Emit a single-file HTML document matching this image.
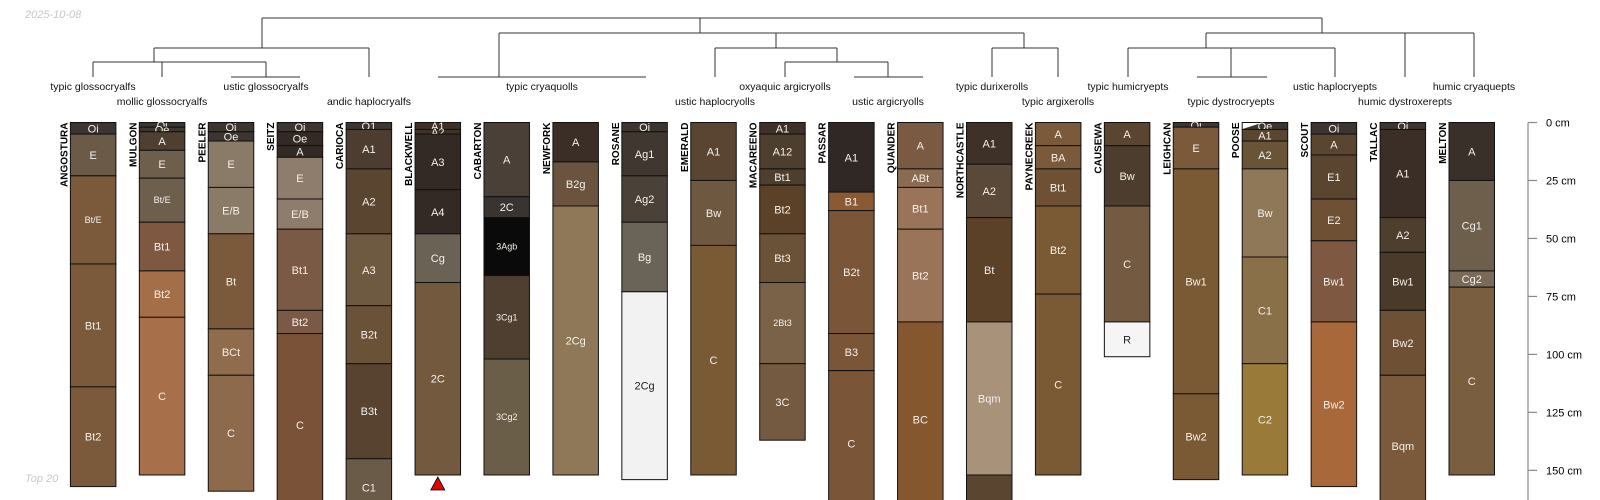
<!DOCTYPE html>
<html><head><meta charset="utf-8"><style>
html,body{margin:0;padding:0;background:#fff}
svg{display:block;font-family:"Liberation Sans",sans-serif}
</style></head><body>
<svg id="chart" width="1600" height="500" viewBox="0 0 1600 500" xmlns="http://www.w3.org/2000/svg">
<text x="25" y="18" font-size="11" font-style="italic" fill="#c8c8c8">2025-10-08</text>
<text x="25" y="482" font-size="11" font-style="italic" fill="#c8c8c8">Top 20</text>
<g id="dendro"></g>
<g id="profiles"></g>
<g id="axis"></g>
</svg>
<script>
const profileNames = ["ANGOSTURA","MULGON","PEELER","SEITZ","CARIOCA","BLACKWELL","CABARTON","NEWFORK","ROSANE","EMERALD","MACAREENO","PASSAR","QUANDER","NORTHCASTLE","PAYNECREEK","CAUSEWA","LEIGHCAN","POOSE","SCOUT","TALLAC","MELTON"];
const horizonNames = [
 ["Oi","E","Bt/E","Bt1","Bt2"],
 ["Oi","Oe","A","E","Bt/E","Bt1","Bt2","C"],
 ["Oi","Oe","E","E/B","Bt","BCt","C"],
 ["Oi","Oe","A","E","E/B","Bt1","Bt2","C"],
 ["O1","A1","A2","A3","B2t","B3t","C1"],
 ["A1","A2","A3","A4","Cg","2C"],
 ["A","2C","3Agb","3Cg1","3Cg2"],
 ["A","B2g","2Cg"],
 ["Oi","Ag1","Ag2","Bg","2Cg"],
 ["A1","Bw","C"],
 ["A1","A12","Bt1","Bt2","Bt3","2Bt3","3C"],
 ["A1","B1","B2t","B3","C"],
 ["A","ABt","Bt1","Bt2","BC"],
 ["A1","A2","Bt","Bqm",""],
 ["A","BA","Bt1","Bt2","C"],
 ["A","Bw","C","R"],
 ["Oi","E","Bw1","Bw2"],
 ["Oe","A1","A2","Bw","C1","C2"],
 ["Oi","A","E1","E2","Bw1","Bw2"],
 ["Oi","A1","A2","Bw1","Bw2","Bqm"],
 ["A","Cg1","Cg2","C"]
];
const horizonDepths = [
 [0,5,23,61,114,157],
 [0,2,4,12,24,43,64,84,152],
 [0,4,8,28,48,89,109,159],
 [0,4,10,15,33,46,81,91,170],
 [0,3,20,48,79,104,145,170],
 [0,3,5,29,48,69,152],
 [0,32,41,66,102,152],
 [0,17,36,152],
 [0,4,23,43,73,154],
 [0,25,53,152],
 [0,5,20,27,48,69,104,137],
 [0,30,38,91,107,170],
 [0,20,28,46,86,170],
 [0,18,41,86,152,170],
 [0,10,20,36,74,152],
 [0,10,36,86,101],
 [0,2,20,117,154],
 [0,3,8,20,58,104,152],
 [0,5,14,33,51,86,157],
 [0,3,41,56,81,109,170],
 [0,25,64,71,152]
];
const horizonColors = [
 ["#3d3530","#6b5a48","#7a5a3a","#7a5a3a","#7a5a3a"],
 ["#3d3530","#3d3530","#4f3f30","#6e5e4c","#6e5e4c","#7e5840","#a36e48","#a8704a"],
 ["#3d3530","#3d3530","#8a7a68","#8a7a68","#7a5a3a","#8f6c4c","#8e6a4c"],
 ["#3d3530","#332a25","#332a25","#8e7c6c","#8e7c6c","#7a5a45","#7a5a45","#7a5237"],
 ["#3d3530","#4d3d30","#5a4530","#6e5a40","#6a5238","#574330","#6a5a48"],
 ["#3d3128","#3d3128","#332a25","#332a25","#6b6256","#735a3e"],
 ["#4a4038","#3a3430","#0a0a0a","#4e3f30","#6b5e48"],
 ["#3a2e26","#6a5440","#8f7858"],
 ["#3d3530","#403830","#4a4238","#6a6458","#f2f2f2"],
 ["#5a4532","#6e5840","#7a5a35"],
 ["#3d3128","#4d3e2e","#4d3e2e","#5a4128","#6a5238","#7a6248","#735a40"],
 ["#302824","#8a5a35","#7a5538","#7a5538","#7a5538"],
 ["#7a5a42","#8a6a50","#9a7458","#9a7458","#84572e"],
 ["#3d3128","#5a4838","#5a4128","#a8927a","#5a4530"],
 ["#7a5a3a","#7a5a3a","#6e5035","#7a5a35","#7a5a35"],
 ["#5a4530","#4d3d2e","#735a40","#f5f5f5"],
 ["#3d3530","#7a5a3a","#7a5a35","#7a5a35"],
 ["#3d3530","#5a4530","#6a5438","#8f7858","#8a7048","#9a7a38"],
 ["#3d3530","#5a4530","#5a4530","#6e5035","#7e5840","#a8683a"],
 ["#3d3530","#3a2e26","#4d3e2e","#4a3a2a","#6e5035","#7a5a3a"],
 ["#3a302a","#6e5e4c","#7a6a58","#7a5e40"]
];
const depthTicks = [0,25,50,75,100,125,150];
const taxonLabels = ["typic glossocryalfs","mollic glossocryalfs","ustic glossocryalfs","andic haplocryalfs","typic cryaquolls","ustic haplocryolls","oxyaquic argicryolls","ustic argicryolls","typic durixerolls","typic argixerolls","typic humicryepts","typic dystrocryepts","ustic haplocryepts","humic dystroxerepts","humic cryaquepts"];

const NS="http://www.w3.org/2000/svg";
const Y0=122.5, PPC=2.319, X0=70.4, STEP=68.93, W=45.5;
const yScale = d => Y0 + d*PPC;
const xScale = i => X0 + i*STEP;
function mk(tag, attrs, parent){const e=document.createElementNS(NS,tag);for(const k in attrs)e.setAttribute(k,attrs[k]);parent.appendChild(e);return e;}

const prof=document.getElementById('profiles');
profileNames.forEach((nm,i)=>{
  const x=xScale(i);
  const g=mk('g',{},prof);
  
  
  const t=mk('text',{x:0,y:0,transform:`translate(${x-3},${Y0}) rotate(-90)`,'text-anchor':'end','font-size':'10','font-weight':'bold',fill:'#000'},g);
  
  
  t.textContent=nm;
  const d=horizonDepths[i];
  horizonNames[i].forEach((h,j)=>{
    const y1=yScale(d[j]), y2=yScale(d[j+1]);
    const r=mk('rect',{x:x,y:y1,width:W,height:y2-y1,fill:horizonColors[i][j],stroke:'#111','stroke-width':'1'},g);
    
    
    if(nm==="POOSE"&&j===0){
      const p=mk('polygon',{points:`${x+0.5},${y1+0.5} ${x+W*0.42},${y1+0.5} ${x+0.5},${y2-0.5}`,fill:'#fff'},g);
      
      
    }
    if(h){
      const small=h.length>=4||h==="Bt/E";
      const light=horizonColors[i][j]==="#f2f2f2"||horizonColors[i][j]==="#f5f5f5";
      const tx=mk('text',{x:x+W/2,y:(y1+y2)/2+(small?3:4),'text-anchor':'middle','font-size':small?'9':'11',fill:light?'#222':'#f4f0ea'},g);
      
      
      tx.textContent=h;
    }
  });
});
const tri=mk('polygon',{points:`${xScale(5)+W/2-7},${yScale(152)+15} ${xScale(5)+W/2+7},${yScale(152)+15} ${xScale(5)+W/2},${yScale(152)+2}`,fill:'#e00000',stroke:'#000','stroke-width':'0.8'},prof);



const ax=document.getElementById('axis');
const AX=1528;
const al=mk('line',{x1:AX,y1:Y0,x2:AX,y2:500,stroke:'#888','stroke-width':'1.2'},ax);


depthTicks.forEach(v=>{
  const tk=mk('line',{x1:AX,y1:yScale(v),x2:AX+9,y2:yScale(v),stroke:'#888','stroke-width':'1.2'},ax);
  
  
  const tl=mk('text',{x:1546,y:yScale(v)+4,'font-size':'11',fill:'#000'},ax);
  
  
  tl.textContent=v+' cm';
});

const dg=document.getElementById('dendro');
const L=[18,33,48,62,77];
const segs=[
 [262,L[0],1322,L[0]],[262,L[0],262,L[2]],[1322,L[0],1322,L[1]],
 [154,L[2],369,L[2]],[369,L[2],369,L[4]],[154,L[2],154,L[3]],
 [93,L[3],266,L[3]],[93,L[3],93,L[4]],[162,L[3],162,L[4]],[266,L[3],266,L[4]],[231,L[4],300,L[4]],
 [700,L[0],700,L[1]],[499,L[1],1024,L[1]],[499,L[1],499,L[4]],[438,L[4],646,L[4]],
 [776,L[1],776,L[2]],[715,L[2],837,L[2]],[715,L[2],715,L[4]],[837,L[2],837,L[3]],
 [785,L[3],888,L[3]],[785,L[3],785,L[4]],[888,L[3],888,L[4]],[854,L[4],923,L[4]],
 [1024,L[1],1024,L[2]],[992,L[2],1058,L[2]],[992,L[2],992,L[4]],[1058,L[2],1058,L[4]],
 [1206,L[1],1474,L[1]],[1206,L[1],1206,L[2]],[1128,L[2],1335,L[2]],[1128,L[2],1128,L[4]],
 [1335,L[2],1335,L[4]],[1231,L[2],1231,L[4]],[1197,L[4],1267,L[4]],[1405,L[1],1405,L[4]],[1474,L[1],1474,L[4]]
];
segs.forEach(s=>{
  const l=mk('line',{x1:s[0],y1:s[1],x2:s[2],y2:s[3],stroke:'#333','stroke-width':'1'},dg);
  
  
});
const labelX=[93,162,266,369,542,715,785,888,992,1058,1128,1231,1335,1405,1474];
taxonLabels.forEach((t,i)=>{
  const e=mk('text',{x:labelX[i],y:i%2===0?90:105,'text-anchor':'middle','font-size':'10.5',fill:'#111'},dg);
  
  
  e.textContent=t;
});
</script>
</body></html>
